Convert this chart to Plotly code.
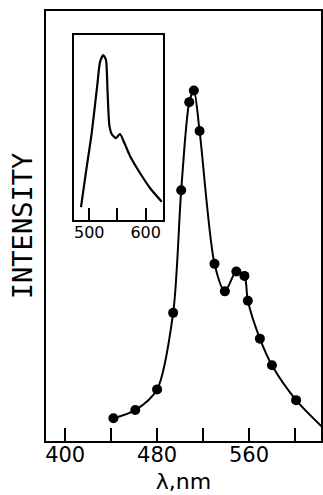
import plotly.graph_objects as go

# Main spectrum: measured points (wavelength nm, relative intensity)
main_wl = [442, 461, 480, 494, 501, 508, 512, 517, 530, 539, 549, 556, 559, 569.5, 580, 601]
main_int = [5.3, 7.2, 12.0, 29.8, 58.3, 78.8, 81.5, 72.1, 41.2, 34.8, 39.4, 38.4, 32.6, 23.8, 17.6, 9.5]
# curve continues past the last point to the right edge
tail_wl = [624]
tail_int = [3.2]

# Inset spectrum (continuous trace)
inset_wl = [485.3, 494.1, 504.3, 514.2, 519.0, 524.8, 529.6, 532.3, 535.5, 539.7, 547.3, 554.4,
            561.5, 572.2, 589.9, 607.6, 628.4]
inset_int = [7.0, 25.9, 47.0, 73.0, 85.4, 89.2, 86.5, 70.3, 51.4, 46.5, 44.3, 46.5,
             42.2, 34.6, 25.4, 17.3, 9.9]

main_ticks = [400, 440, 480, 520, 560, 600]
main_ticktext = ["400", "", "480", "", "560", ""]
inset_ticks = [500, 550, 600]
inset_ticktext = ["500", "", "600"]

fig = go.Figure()
fig.add_trace(go.Scatter(x=main_wl + tail_wl, y=main_int + tail_int, mode="lines",
                         line=dict(color="black", width=2, shape="spline", smoothing=0.8),
                         hoverinfo="skip", showlegend=False))
fig.add_trace(go.Scatter(x=main_wl, y=main_int, mode="markers",
                         marker=dict(color="black", size=10),
                         showlegend=False))
fig.add_trace(go.Scatter(x=inset_wl, y=inset_int, mode="lines", xaxis="x2", yaxis="y2",
                         line=dict(color="black", width=2.2, shape="spline", smoothing=0.6),
                         showlegend=False))

fig.update_layout(
    width=323, height=495,
    margin=dict(l=46, r=2, t=11, b=54),
    paper_bgcolor="white", plot_bgcolor="white",
    font=dict(family="DejaVu Sans", color="black"),
    xaxis=dict(range=[383.3, 622.7], showgrid=False, zeroline=False,
               showline=True, linecolor="black", linewidth=2, mirror=True,
               ticks="inside", ticklen=13, tickwidth=1.5, tickcolor="black",
               tickvals=main_ticks, ticktext=main_ticktext,
               tickfont=dict(size=21, family="DejaVu Sans"),
               ticklabelstandoff=-6,
               title=dict(text="λ,nm", font=dict(size=22, family="DejaVu Sans"), standoff=7),
               automargin=False),
    yaxis=dict(range=[0, 100], showgrid=False, zeroline=False,
               showline=True, linecolor="black", linewidth=2, mirror=True,
               showticklabels=False, ticks="",
               title=dict(text="INTENSITY", font=dict(size=27, family="DejaVu Sans Mono"), standoff=4),
               automargin=False),
    xaxis2=dict(domain=[0.1018, 0.4244], anchor="y2", range=[472.9, 630.2],
                showgrid=False, zeroline=False,
                showline=True, linecolor="black", linewidth=1.5, mirror=True,
                ticks="inside", ticklen=12, tickwidth=1.5, tickcolor="black",
                tickvals=inset_ticks, ticktext=inset_ticktext,
                tickfont=dict(size=16, family="DejaVu Sans"),
                ticklabelstandoff=-3, automargin=False),
    yaxis2=dict(domain=[0.514, 0.944], anchor="x2", range=[0, 100],
                showgrid=False, zeroline=False,
                showline=True, linecolor="black", linewidth=1.5, mirror=True,
                showticklabels=False, ticks="", automargin=False),
)

fig.write_html("out.html", config={"displayModeBar": False},
               post_script="document.body.style.margin='0px';document.body.style.overflow='hidden';")
